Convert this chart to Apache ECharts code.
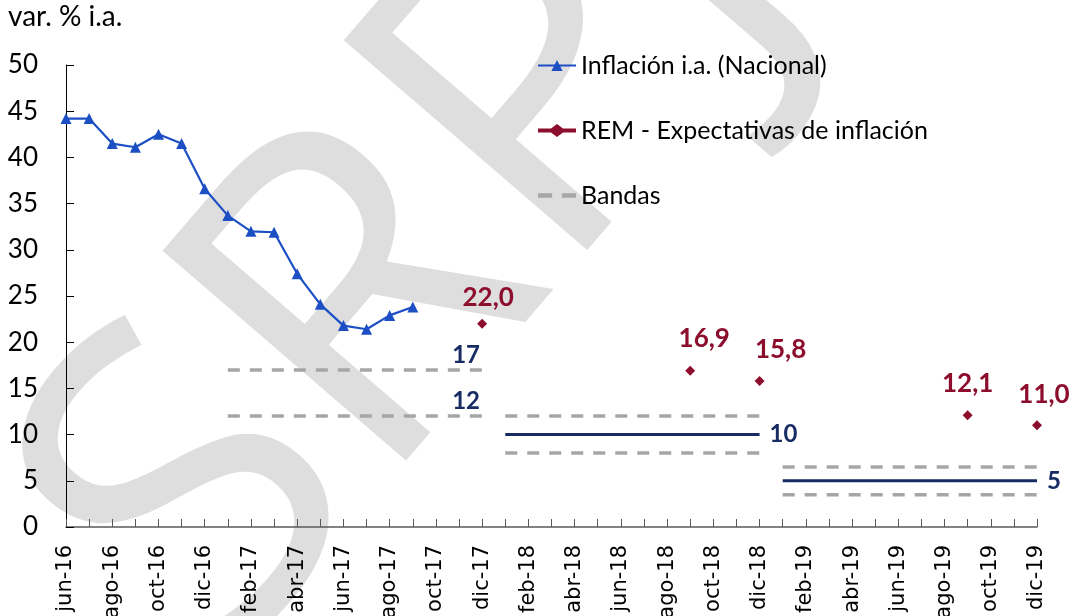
<!DOCTYPE html>
<html>
<head>
<meta charset="utf-8">
<script src="https://cdn.jsdelivr.net/npm/echarts@6/dist/echarts.min.js"></script>
<style>
  html, body { margin: 0; padding: 0; background: #fff; }
  #chart { width: 1072px; height: 616px; }
</style>
</head>
<body>
<div id="chart"></div>
<script>
// eje x: meses jun-16 .. dic-19
var meses = [
  'jun-16', 'jul-16', 'ago-16', 'sep-16', 'oct-16', 'nov-16', 'dic-16',
  'ene-17', 'feb-17', 'mar-17', 'abr-17', 'may-17', 'jun-17', 'jul-17', 'ago-17', 'sep-17', 'oct-17', 'nov-17', 'dic-17',
  'ene-18', 'feb-18', 'mar-18', 'abr-18', 'may-18', 'jun-18', 'jul-18', 'ago-18', 'sep-18', 'oct-18', 'nov-18', 'dic-18',
  'ene-19', 'feb-19', 'mar-19', 'abr-19', 'may-19', 'jun-19', 'jul-19', 'ago-19', 'sep-19', 'oct-19', 'nov-19', 'dic-19'
];

// Inflación i.a. (Nacional), jun-16 .. sep-17
var inflacion = [44.2, 44.2, 41.5, 41.1, 42.5, 41.5, 36.6, 33.7, 32.0, 31.9, 27.4, 24.1, 21.8, 21.4, 22.9, 23.8];

// REM - expectativas
var remMeses = ['dic-17', 'sep-18', 'dic-18', 'sep-19', 'dic-19'];
var remValores = [22.0, 16.9, 15.8, 12.1, 11.0];

// bandas y metas por año
var bandaDesde = ['ene-17', 'ene-18', 'ene-19'];
var bandaHasta = ['dic-17', 'dic-18', 'dic-19'];
var bandaSup = [17, 12, 6.5];
var bandaInf = [12, 8, 3.5];
var meta = [null, 10, 5];

var AZUL = '#1c4fc4';
var ROJO = '#8d0d2d';
var NAVY = '#172c64';
var GRIS = '#a6a6a6';

function tramo(desde, hasta, valor) {
    var i0 = meses.indexOf(desde), i1 = meses.indexOf(hasta);
    var out = [];
    for (var i = i0; i <= i1; i++) out.push([meses[i], valor]);
    return out;
}

function coma(v) {
    return v.toFixed(1).replace('.', ',');
}

// desplazamiento de las etiquetas del REM
var remShift = [[6, -3], [14, -9], [21, -8], [0, -9], [7, -8]];

var series = [];

series.push({
    name: 'Inflación i.a. (Nacional)',
    type: 'line',
    data: inflacion,
    symbol: 'triangle',
    symbolSize: 11,
    showAllSymbol: true,
    lineStyle: { color: AZUL, width: 2.2 },
    itemStyle: { color: AZUL },
    z: 5
});

series.push({
    name: 'REM - Expectativas de inflación',
    type: 'scatter',
    data: remMeses.map(function (m, k) {
        return { value: [m, remValores[k]], label: { offset: remShift[k] } };
    }),
    symbol: 'diamond',
    symbolSize: 10,
    itemStyle: { color: ROJO, opacity: 1 },
    label: {
        show: true,
        position: 'top',
        color: ROJO,
        fontFamily: 'Lato',
        fontWeight: 'bold',
        fontSize: 26,
        formatter: function (p) { return coma(p.value[1]); }
    },
    z: 5
});

bandaDesde.forEach(function (desde, j) {
    var conEtiqueta = meta[j] == null;
    [bandaSup[j], bandaInf[j]].forEach(function (v) {
        series.push({
            name: 'Bandas',
            type: 'line',
            data: tramo(desde, bandaHasta[j], v),
            symbol: 'none',
            lineStyle: { color: GRIS, width: 3.5, type: [12, 10] },
            itemStyle: { color: GRIS },
            endLabel: {
                show: conEtiqueta,
                formatter: String(v),
                offset: [-38, -15],
                color: NAVY,
                fontFamily: 'Lato',
                fontWeight: 'bold',
                fontSize: 24
            },
            z: 3
        });
    });
    if (meta[j] != null) {
        series.push({
            name: 'Meta',
            type: 'line',
            data: tramo(desde, bandaHasta[j], meta[j]),
            symbol: 'none',
            lineStyle: { color: NAVY, width: 3 },
            itemStyle: { color: NAVY },
            endLabel: {
                show: true,
                formatter: String(meta[j]),
                distance: 10,
                color: NAVY,
                fontFamily: 'Lato',
                fontWeight: 'bold',
                fontSize: 24
            },
            z: 4
        });
    }
});

var chart = echarts.init(document.getElementById('chart'));
chart.setOption({
    animation: false,
    backgroundColor: '#fff',
    textStyle: { fontFamily: 'Lato' },
    graphic: [
        {
            type: 'text',
            left: 8, top: 3,
            style: { text: 'var. % i.a.', fontFamily: 'Lato', fontSize: 28, fill: '#000' }
        },
        {
            // marca de agua
            type: 'text',
            x: 418, y: 250,
            rotation: 0.86,
            z: -10,
            style: {
                text: 'SRPJ',
                fontFamily: 'Open Sans',
                fontSize: 450,
                fill: '#dedede',
                align: 'center',
                verticalAlign: 'middle'
            }
        }
    ],
    legend: {
        data: [
            'Inflación i.a. (Nacional)',
            {
                name: 'REM - Expectativas de inflación',
                icon: 'path://M0,4.5H13L19,0L25,4.5H38V8.5H25L19,13L13,8.5H0Z'
            },
            { name: 'Bandas', icon: 'path://M0,0H13V4H0ZM22,0H35V4H22Z' }
        ],
        orient: 'vertical',
        left: 537,
        top: 53,
        padding: 0,
        itemGap: 40,
        itemWidth: 38,
        itemHeight: 14,
        textStyle: { fontFamily: 'Lato', fontSize: 25, color: '#000' }
    },
    grid: { left: 66, right: 35, top: 65, bottom: 89, containLabel: false, outerBoundsMode: 'none' },
    xAxis: {
        type: 'category',
        data: meses,
        boundaryGap: false,
        axisLine: { lineStyle: { color: '#595959', width: 1.5 } },
        axisTick: { inside: true, interval: 0, length: 8, lineStyle: { color: '#595959' } },
        axisLabel: {
            interval: 1,
            rotate: 90,
            margin: 18,
            fontFamily: 'DejaVu Sans',
            fontSize: 21,
            color: '#000'
        },
        splitLine: { show: false }
    },
    yAxis: {
        type: 'value',
        min: 0,
        max: 50,
        interval: 5,
        axisLine: { show: true, lineStyle: { color: '#000', width: 1 } },
        axisTick: { show: true, inside: true, length: 8, lineStyle: { color: '#000' } },
        axisLabel: { fontFamily: 'Lato', fontSize: 26, color: '#000', margin: 28 },
        splitLine: { show: false }
    },
    series: series
});
</script>
</body>
</html>
